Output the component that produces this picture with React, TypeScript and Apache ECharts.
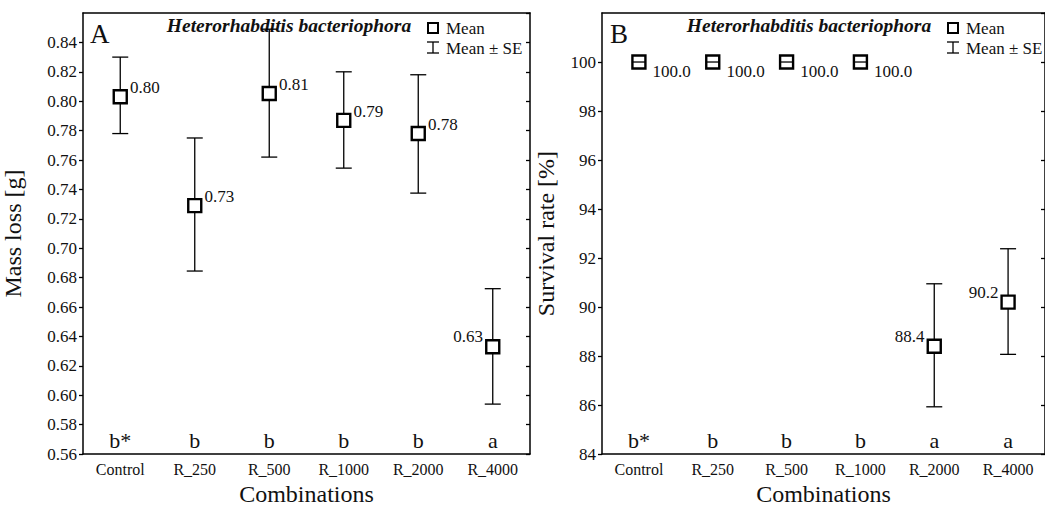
import React, { useEffect, useRef } from "react";
import * as echarts from "echarts";

// Treatment combinations shared by both panels
const categories = ["Control", "R_250", "R_500", "R_1000", "R_2000", "R_4000"];

// Panel A: mass loss [g], mean and mean ± SE
const massMean = [0.803, 0.729, 0.8052, 0.787, 0.778, 0.633];
const massLow = [0.778, 0.6845, 0.762, 0.7545, 0.7375, 0.594];
const massHigh = [0.83, 0.775, 0.849, 0.82, 0.818, 0.6725];
const massLetters = ["b*", "b", "b", "b", "b", "a"];

// Panel B: survival rate [%], mean and mean ± SE
const survMean = [100, 100, 100, 100, 88.4, 90.2];
const survLow = [100, 100, 100, 100, 85.93, 88.07];
const survHigh = [100, 100, 100, 100, 90.95, 92.38];
const survLetters = ["b*", "b", "b", "b", "a", "a"];

// Axis ranges
const massAxis = { min: 0.56, max: 0.86, interval: 0.02 };
const survAxis = { min: 84, max: 102, interval: 2 };

const SPECIES = "Heterorhabditis bacteriophora";
const FONT = "'Liberation Serif', 'Times New Roman', serif";
const INK = "#111";

// Which side of the marker each value label sits on
const massLabelSide = ["right", "right", "right", "right", "right", "left"];
const survLabelSide = ["rightDown", "rightDown", "rightDown", "rightDown", "left", "left"];

function errorBarSeries(gridIdx: number, low: number[], high: number[], zeroOnly: boolean) {
  return {
    type: "custom",
    xAxisIndex: gridIdx * 2,
    yAxisIndex: gridIdx * 2,
    z: zeroOnly ? 5 : 2,
    silent: true,
    encode: { x: 0, y: [1, 2] },
    data: categories.map((_, i) => [i, low[i], high[i]]),
    renderItem: (params: any, api: any) => {
      const i = api.value(0);
      const lo = api.value(1);
      const hi = api.value(2);
      const isZero = hi - lo === 0;
      if (zeroOnly !== isZero) return { type: "group", children: [] };
      const pLo = api.coord([i, lo]);
      const pHi = api.coord([i, hi]);
      const half = zeroOnly ? 7 : 8;
      const st = { stroke: "#000", lineWidth: 1.3 };
      const children: any[] = [
        { type: "line", shape: { x1: pLo[0] - half, y1: pLo[1], x2: pLo[0] + half, y2: pLo[1] }, style: st },
      ];
      if (!isZero) {
        children.push(
          { type: "line", shape: { x1: pLo[0], y1: pLo[1], x2: pHi[0], y2: pHi[1] }, style: st },
          { type: "line", shape: { x1: pHi[0] - half, y1: pHi[1], x2: pHi[0] + half, y2: pHi[1] }, style: st }
        );
      }
      return { type: "group", children };
    },
  };
}

function letterSeries(gridIdx: number, letters: string[], yMin: number) {
  return {
    type: "custom",
    xAxisIndex: gridIdx * 2,
    yAxisIndex: gridIdx * 2,
    silent: true,
    z: 3,
    data: categories.map((_, i) => [i, yMin]),
    renderItem: (params: any, api: any) => {
      const p = api.coord([api.value(0), api.value(1)]);
      return {
        type: "text",
        x: p[0],
        y: p[1] - 3,
        style: {
          text: letters[params.dataIndex],
          textAlign: "center",
          textVerticalAlign: "bottom",
          fontFamily: FONT,
          fontSize: 22,
          fill: INK,
        },
      };
    },
  };
}

function meanSeries(gridIdx: number, means: number[], sides: string[], digits: number) {
  return {
    type: "scatter",
    xAxisIndex: gridIdx * 2,
    yAxisIndex: gridIdx * 2,
    z: 4,
    symbol: "rect",
    symbolSize: 13,
    itemStyle: { color: "#fff", borderColor: "#000", borderWidth: 2.4, opacity: 1 },
    data: means.map((v, i) => {
      const side = sides[i];
      let label: any;
      if (side === "left") label = { position: "left", distance: 2, offset: [0, -10] };
      else if (side === "rightDown") label = { position: "right", distance: 2, offset: [4, 9] };
      else label = { position: "right", distance: 2, offset: [0, -9] };
      return { value: [i, v], label };
    }),
    label: {
      show: true,
      fontFamily: FONT,
      fontSize: 17,
      color: INK,
      formatter: (p: any) => Number(p.value[1]).toFixed(digits),
    },
  };
}

function gridAxes(gridIdx: number, range: { min: number; max: number; interval: number }, name: string, nameGap: number, digits: number) {
  const line = { lineStyle: { color: "#000", width: 1.5 } };
  const xs = [
    {
      type: "category",
      gridIndex: gridIdx,
      data: categories,
      position: "bottom",
      axisLine: line,
      axisTick: { inside: true, alignWithLabel: true, length: 4, lineStyle: { color: "#000", width: 1.3 } },
      axisLabel: { fontFamily: FONT, fontSize: 16, color: INK, margin: 7, interval: 0 },
      name: "Combinations",
      nameLocation: "middle",
      nameGap: 27,
      nameTextStyle: { fontFamily: FONT, fontSize: 24, color: INK },
    },
    {
      type: "category",
      gridIndex: gridIdx,
      data: categories,
      position: "top",
      axisLine: line,
      axisTick: { inside: true, alignWithLabel: true, length: 4, lineStyle: { color: "#000", width: 1.3 } },
      axisLabel: { show: false },
    },
  ];
  const ys = [
    {
      type: "value",
      gridIndex: gridIdx,
      position: "left",
      min: range.min,
      max: range.max,
      interval: range.interval,
      axisLine: { show: true, ...line },
      axisTick: { show: true, inside: false, length: 4, lineStyle: { color: "#000", width: 1.3 } },
      axisLabel: {
        fontFamily: FONT,
        fontSize: 17,
        color: INK,
        margin: 6,
        showMaxLabel: false,
        formatter: (v: number) => (digits ? v.toFixed(digits) : String(Math.round(v))),
      },
      splitLine: { show: false },
      name,
      nameLocation: "middle",
      nameGap,
      nameTextStyle: { fontFamily: FONT, fontSize: 24, color: INK },
    },
    {
      type: "value",
      gridIndex: gridIdx,
      position: "right",
      min: range.min,
      max: range.max,
      interval: range.interval,
      axisLine: { show: true, ...line },
      axisTick: { show: true, inside: true, length: 4, lineStyle: { color: "#000", width: 1.3 } },
      axisLabel: { show: false },
      splitLine: { show: false },
    },
  ];
  return { xs, ys };
}

function legendGraphics(left: number) {
  const sx = left + 346;
  const tx = left + 364;
  const txt = (text: string, y: number) => ({
    type: "text",
    x: tx,
    y,
    style: { text, textAlign: "left", textVerticalAlign: "middle", fontFamily: FONT, fontSize: 17, fill: INK },
  });
  const st = { stroke: "#000", lineWidth: 1.3 };
  return [
    { type: "rect", shape: { x: sx, y: 23, width: 10, height: 10 }, style: { fill: "#fff", stroke: "#000", lineWidth: 2 } },
    txt("Mean", 28),
    { type: "line", shape: { x1: sx + 5, y1: 42, x2: sx + 5, y2: 53 }, style: st },
    { type: "line", shape: { x1: sx - 1, y1: 42, x2: sx + 11, y2: 42 }, style: st },
    { type: "line", shape: { x1: sx - 1, y1: 53, x2: sx + 11, y2: 53 }, style: st },
    txt("Mean \u00b1 SE", 48),
  ];
}

function panelTitles(left: number, letter: string) {
  return [
    {
      type: "text",
      x: left + 8,
      y: 34,
      style: { text: letter, textAlign: "left", textVerticalAlign: "middle", fontFamily: FONT, fontSize: 27, fill: INK },
    },
    {
      type: "text",
      x: left + 207,
      y: 25,
      style: {
        text: SPECIES,
        textAlign: "center",
        textVerticalAlign: "middle",
        fontFamily: FONT,
        fontSize: 19.5,
        fontWeight: "bold",
        fontStyle: "italic",
        fill: INK,
      },
    },
  ];
}

export default function App() {
  const ref = useRef<HTMLDivElement>(null);

  useEffect(() => {
    document.body.style.margin = "0";
    document.body.style.overflow = "hidden";
    if (!ref.current) return;
    const chart = echarts.init(ref.current, undefined, { renderer: "svg" });

    const a = gridAxes(0, massAxis, "Mass loss [g]", 58, 2);
    const b = gridAxes(1, survAxis, "Survival rate [%]", 44, 0);

    const leftA = 82;
    const leftB = 602;

    chart.setOption({
      animation: false,
      backgroundColor: "#fff",
      textStyle: { fontFamily: FONT },
      grid: [
        { left: leftA, width: 448, top: 13, height: 449 },
        { left: leftB, width: 451, top: 13, height: 449 },
      ],
      xAxis: [...a.xs, ...b.xs],
      yAxis: [...a.ys, ...b.ys],
      series: [
        errorBarSeries(0, massLow, massHigh, false),
        meanSeries(0, massMean, massLabelSide, 2),
        letterSeries(0, massLetters, massAxis.min),
        errorBarSeries(1, survLow, survHigh, false),
        meanSeries(1, survMean, survLabelSide, 1),
        errorBarSeries(1, survLow, survHigh, true),
        letterSeries(1, survLetters, survAxis.min),
      ],
      graphic: [
        ...panelTitles(leftA, "A"),
        ...legendGraphics(leftA),
        ...panelTitles(leftB, "B"),
        ...legendGraphics(leftB),
      ],
    });

    return () => chart.dispose();
  }, []);

  return <div ref={ref} style={{ width: 1045, height: 511 }} />;
}
